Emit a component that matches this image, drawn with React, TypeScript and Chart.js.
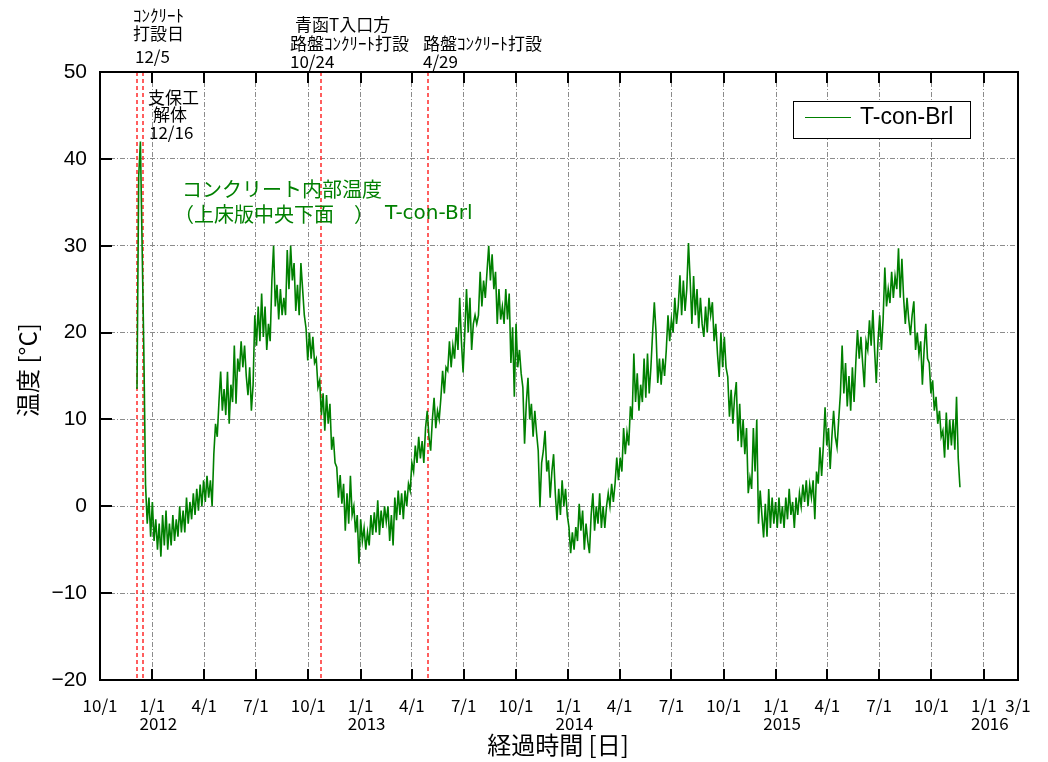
import React, { useEffect, useRef } from "react";
import { Chart, registerables } from "chart.js";

Chart.register(...registerables);

// ---------- data ----------
const AXIS_START = "2011-10-01";
const AXIS_END = "2016-03-01";

const xTickDates = [
  "2011-10-01",
  "2012-01-01", "2012-04-01", "2012-07-01", "2012-10-01",
  "2013-01-01", "2013-04-01", "2013-07-01", "2013-10-01",
  "2014-01-01", "2014-04-01", "2014-07-01", "2014-10-01",
  "2015-01-01", "2015-04-01", "2015-07-01", "2015-10-01",
  "2016-01-01", "2016-03-01",
];
const xTickLabels = [
  "10/1",
  "1/1", "4/1", "7/1", "10/1",
  "1/1", "4/1", "7/1", "10/1",
  "1/1", "4/1", "7/1", "10/1",
  "1/1", "4/1", "7/1", "10/1",
  "1/1", "3/1",
];
const yearDates = ["2012-01-01", "2013-01-01", "2014-01-01", "2015-01-01", "2016-01-01"];
const yearLabels = ["2012", "2013", "2014", "2015", "2016"];

const yMin = -20;
const yMax = 50;
const yStep = 10;

const seriesName = "T-con-Brl";
const sampleStart = "2011-12-05";
const sampleStepDays = 3;
// concrete internal temperature (°C), one reading every 3 days from 2011-12-05
const tempBrl = [
  13.5, 38, 42, 30, 18, 2.5, -2, 1, -3.5, 0.5,
  -4, -1.5, -5, -2, -5.8, -1, -4.5, -0.5, -5, -2,
  -4.5, -1, -4, -1.5, -3.5, 0, -3, -0.5, -3, 1,
  -2, 0.5, -1.5, 1.5, -1, 2, -0.5, 2.5, 0, 3,
  0.5, 3.5, 1, 3, 0, 6, 9.5, 8, 12, 15.5,
  11, 13.5, 10.5, 15.5, 9.5, 14, 12, 18.5, 11.8, 17,
  15.5, 19, 16, 18.5, 15, 12.8, 16, 11, 14, 22,
  18.5, 23, 19, 24.5, 19.5, 23, 18, 21, 19, 26,
  30, 23, 25.5, 21.5, 25, 22, 24, 22, 29.5, 25,
  30, 26, 28, 22.5, 25.5, 22, 28, 25, 22, 20.5,
  16.8, 20, 17, 19.5, 16.5, 17, 13.7, 14.5, 10.5, 13,
  8.7, 12.8, 9.5, 11.8, 6.5, 8, 5, 4.5, 1, 3.6,
  0.3, 2.6, -2.8, 1.5, -2, 3.5, -1, 0, -3, -1,
  -6.6, -1.5, -4, -2.5, -5, -3, -4.5, -1, -3.3, -0.7,
  -3, 0.7, -3.3, -0.5, -2.5, 0, -1.8, 0, -4, -1,
  -4.5, 1, -1.6, 1.8, -1, 1.5, -1.5, 1.8, 0, 2.6,
  1.8, 5, 4, 7, 5, 8, 5.5, 7.5, 5, 9,
  11, 8, 6.4, 10, 12.5, 9, 11, 10, 12.5, 15.6,
  13, 16, 15.6, 19, 16, 18.5, 17, 20.6, 18, 24,
  19, 15.4, 20, 25, 20, 24, 18, 21, 22, 21,
  22, 27, 23, 26, 24, 27, 30, 26, 29, 25,
  27, 21, 25, 21.5, 23, 21, 25, 21.5, 24.5, 16.5,
  20.6, 12.6, 21, 16, 18, 15.3, 13.7, 7.2, 11.8, 14.8,
  10, 11.8, 8, 11, 8.5, 6.4, -0.1, 5, 6.4, 8.7,
  4, 5.3, 1, 4, 6, 1.5, -1.6, 2, -1, 3,
  0, 2, -1, -2.4, -5.4, -3, -5, -2.4, -4, 0.3,
  -2.8, -0.5, -5, -2, -4, -5.4, -1, 1.5, -2.8, 0,
  -2, 1.5, -2.5, 0, -2.5, 0, 1.5, 0, 2.6, 0.5,
  2.6, 5.6, 3, 5.6, 4, 9, 6, 8.5, 7, 11.5,
  10, 17.6, 12, 15.3, 11, 14, 12, 17, 12.5, 17.6,
  13, 16, 20, 23.5, 20, 14.2, 17, 14, 17, 15,
  18, 22, 19, 21.5, 20, 24, 21, 23, 26.6, 22,
  26, 22.5, 25, 30.3, 26, 21, 26.5, 22, 25, 20.5,
  24, 21, 19.5, 23, 20, 24, 22, 23.5, 19, 21,
  17.5, 14.9, 20, 16, 19.5, 16, 14.9, 10.3, 13.4, 9.5,
  12.5, 14.3, 7.5, 11.8, 6.8, 10, 6, 9, 1.5, 3.3,
  2, 9, 4, 10, -2, 1.8, -1, -3.6, 0.3, -3.5,
  2, -2.5, 1, -2, 0.5, -2.5, 1, -2, 0, -2.5,
  1, -1.5, 2, -1, 0.5, -2.5, 1, -1, 1.5, 0,
  2.5, 0.5, 3, 0, 2.5, 1, 3, -1.5, 4, 2.6,
  6.8, 3.5, 7, 11.4, 7, 9, 4.3, 8, 11, 8,
  6.8, 10, 13, 18.5, 13, 16.5, 11.5, 15, 11, 16,
  12, 16.5, 20.3, 17, 19.5, 16.5, 13.7, 19, 18, 21.4,
  18.5, 22.6, 18, 14.2, 19, 22, 18, 21.5, 27.5, 23,
  25, 23.4, 27, 24, 26.5, 25, 29.7, 24, 28.5, 24,
  21, 24, 21.5, 19.7, 22, 23.6, 18, 20, 17.5, 19,
  14, 18, 21, 17, 16.5, 13, 14.5, 11, 12.6, 9.5,
  11, 8, 8.7, 5.6, 10.8, 6.5, 10, 7, 10, 6.5,
  12.6, 5.5, 2.2,
];

const eventDates = ["2011-12-05", "2011-12-16", "2012-10-24", "2013-04-29"];

const annotationTexts = [
  "ｺﾝｸﾘｰﾄ", "打設日", "12/5",
  "青函T入口方", "路盤ｺﾝｸﾘｰﾄ打設", "10/24",
  "路盤ｺﾝｸﾘｰﾄ打設", "4/29",
  "支保工", "解体", "12/16",
];
const innerLabelTexts = ["コンクリート内部温度", "（上床版中央下面", "）", "T-con-Brl"];
const yAxisTitle = "温度 [°C]";
const xAxisTitle = "経過時間 [日]";

// ---------- helpers ----------
function toUTC(s: string) {
  const [y, m, d] = s.split("-").map(Number);
  return Date.UTC(y, m - 1, d);
}
function dayOf(s: string) {
  return Math.round((toUTC(s) - toUTC(AXIS_START)) / 86400000);
}

const GREEN = "#008000";
const JP = '"Noto Sans CJK JP", "Noto Sans", sans-serif';
const LAT = '"Liberation Sans", Arial, sans-serif';
const WIDE = '"DejaVu Sans", "Noto Sans CJK JP", sans-serif';

// annotation placement (pixels) and font size, same order as annotationTexts
const annotationPlace: [number, number, number][] = [
  [133, 16, 17], [133, 34, 17], [135, 57, 17],
  [295, 25, 17], [290, 44, 17], [290, 62, 17],
  [423, 44, 17], [423, 62, 17],
  [148, 98, 17], [153, 115, 17], [149, 133, 17],
];

const decorPlugin = {
  id: "decor",
  beforeDatasetsDraw(chart: any) {
    const { ctx, chartArea: a, scales } = chart;
    const x = scales.x;
    ctx.save();
    ctx.strokeStyle = "#ff2a2a";
    ctx.lineWidth = 1.5;
    ctx.setLineDash([4, 3]);
    for (const d of eventDates) {
      const px = Math.round(x.getPixelForValue(dayOf(d)));
      ctx.beginPath();
      ctx.moveTo(px, a.top);
      ctx.lineTo(px, a.bottom);
      ctx.stroke();
    }
    ctx.restore();
  },
  afterDraw(chart: any) {
    const { ctx, chartArea: a, scales } = chart;
    const x = scales.x;
    const y = scales.y;
    ctx.save();
    // frame
    ctx.strokeStyle = "#000";
    ctx.lineWidth = 2;
    ctx.setLineDash([]);
    ctx.strokeRect(a.left, a.top, a.right - a.left, a.bottom - a.top);
    // inward tick marks
    ctx.beginPath();
    for (const d of xTickDates) {
      const px = Math.round(x.getPixelForValue(dayOf(d)));
      ctx.moveTo(px, a.bottom);
      ctx.lineTo(px, a.bottom - 11);
      ctx.moveTo(px, a.top);
      ctx.lineTo(px, a.top + 11);
    }
    for (let v = yMin; v <= yMax; v += yStep) {
      const py = Math.round(y.getPixelForValue(v));
      ctx.moveTo(a.left, py);
      ctx.lineTo(a.left + 12, py);
    }
    ctx.stroke();

    // year labels
    ctx.fillStyle = "#000";
    ctx.font = `17px ${JP}`;
    ctx.textAlign = "center";
    ctx.textBaseline = "middle";
    yearDates.forEach((d, i) => {
      const px = x.getPixelForValue(dayOf(d)) + 6;
      ctx.fillText(yearLabels[i], px, 724);
    });

    // annotations
    ctx.textAlign = "left";
    annotationTexts.forEach((t, i) => {
      const [px, py, fs] = annotationPlace[i];
      ctx.font = `${fs}px ${JP}`;
      ctx.fillText(t, px, py);
    });

    // inner green label
    ctx.fillStyle = GREEN;
    ctx.font = `20px ${JP}`;
    ctx.fillText(innerLabelTexts[0], 182, 189);
    ctx.fillText(innerLabelTexts[1], 174, 214);
    ctx.fillText(innerLabelTexts[2], 354, 214);
    ctx.font = `20px ${WIDE}`;
    ctx.fillText(innerLabelTexts[3], 385, 214);

    // axis titles
    ctx.fillStyle = "#000";
    ctx.font = `24px ${JP}`;
    ctx.textAlign = "center";
    ctx.fillText(xAxisTitle, 558, 745);
    ctx.save();
    ctx.translate(28, 370);
    ctx.rotate(-Math.PI / 2);
    ctx.fillText(yAxisTitle, 0, 0);
    ctx.restore();

    // legend
    ctx.fillStyle = "#fff";
    ctx.fillRect(793, 101, 177, 37);
    ctx.strokeStyle = "#000";
    ctx.lineWidth = 1;
    ctx.strokeRect(793.5, 101.5, 177, 37);
    ctx.strokeStyle = GREEN;
    ctx.beginPath();
    ctx.moveTo(805, 117.5);
    ctx.lineTo(851, 117.5);
    ctx.stroke();
    ctx.fillStyle = "#000";
    ctx.font = `23px ${LAT}`;
    ctx.textAlign = "left";
    ctx.fillText(seriesName, 860, 118);
    ctx.restore();
  },
};

export default function App() {
  const canvasRef = useRef<HTMLCanvasElement | null>(null);

  useEffect(() => {
    if (!canvasRef.current) return;
    const start = dayOf(sampleStart);
    const points = tempBrl.map((v, i) => ({ x: start + i * sampleStepDays, y: v }));
    const tickDays = xTickDates.map(dayOf);

    const chart = new Chart(canvasRef.current, {
      type: "line",
      data: {
        datasets: [
          {
            label: seriesName,
            data: points,
            borderColor: GREEN,
            backgroundColor: GREEN,
            borderWidth: 1.6,
            pointRadius: 0,
            tension: 0,
            fill: false,
          },
        ],
      },
      options: {
        animation: false,
        responsive: false,
        maintainAspectRatio: false,
        events: [],
        layout: { padding: { top: 72, right: 30, left: 0, bottom: 0 } },
        plugins: {
          legend: { display: false },
          title: { display: false },
          tooltip: { enabled: false },
        },
        scales: {
          x: {
            type: "linear",
            min: dayOf(AXIS_START),
            max: dayOf(AXIS_END),
            afterBuildTicks: (s: any) => {
              s.ticks = tickDays.map((v) => ({ value: v }));
            },
            afterFit: (s: any) => {
              s.height = 82;
            },
            ticks: {
              autoSkip: false,
              maxRotation: 0,
              minRotation: 0,
              padding: 15,
              color: "#000",
              font: { family: JP, size: 17 },
              callback: (_v: any, i: number) => xTickLabels[i],
            },
            grid: { color: "#8c8c8c", lineWidth: 1, drawTicks: false },
            border: { display: false, dash: [5, 2, 1, 2] },
          },
          y: {
            type: "linear",
            min: yMin,
            max: yMax,
            afterFit: (s: any) => {
              s.width = 100;
            },
            ticks: {
              stepSize: yStep,
              padding: 13,
              color: "#000",
              font: { family: LAT, size: 21 },
              callback: (v: any) => (Number(v) < 0 ? "\u2212" + Math.abs(Number(v)) : String(v)),
            },
            grid: { color: "#8c8c8c", lineWidth: 1, drawTicks: false },
            border: { display: false, dash: [5, 2, 1, 2] },
          },
        },
      },
      plugins: [decorPlugin],
    });
    return () => chart.destroy();
  }, []);

  return (
    <div style={{ position: "absolute", left: 0, top: 0, width: 1048, height: 762, background: "#fff" }}>
      <canvas ref={canvasRef} width={1048} height={762} style={{ width: 1048, height: 762 }} />
    </div>
  );
}
